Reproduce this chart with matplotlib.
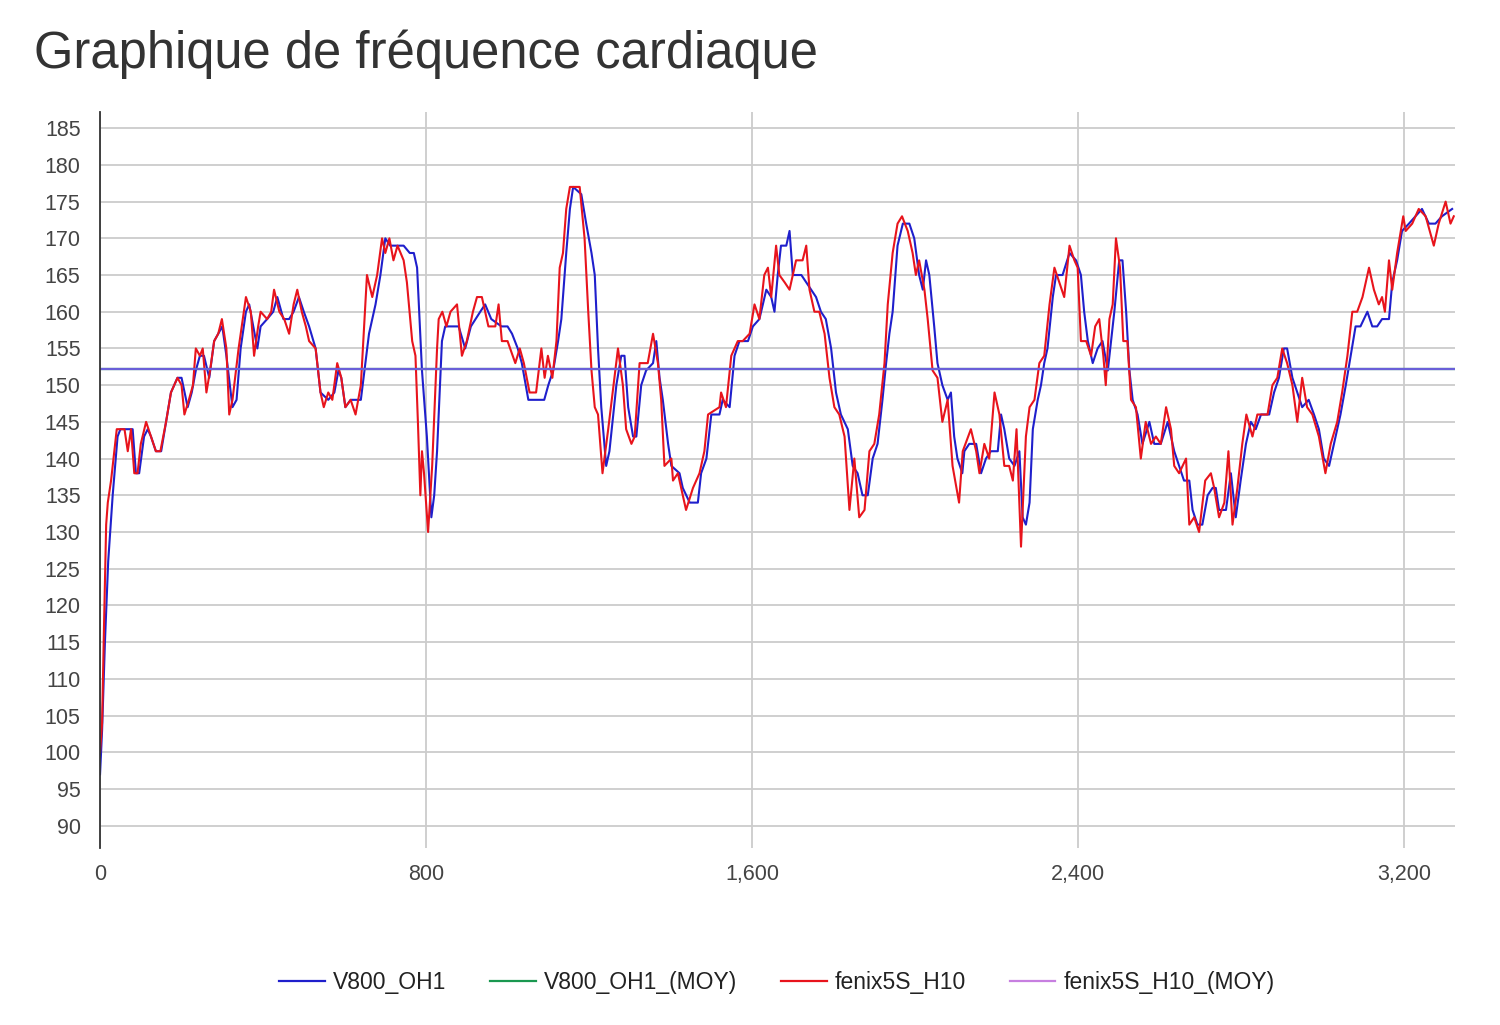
import matplotlib
matplotlib.use("Agg")
import matplotlib.pyplot as plt

plt.rcParams['font.family'] = ['Liberation Sans', 'DejaVu Sans']

title = "Graphique de fréquence cardiaque"
series_names = ["V800_OH1", "V800_OH1_(MOY)", "fenix5S_H10", "fenix5S_H10_(MOY)"]

# V800_OH1 (seconds, bpm)
v800_t = [0, 5, 12, 20, 31, 43, 50, 80, 88, 96, 108, 117, 125, 137, 150, 162, 174, 190, 200, 215,
          225, 235, 245, 255, 268, 280, 290, 300, 310, 325, 335, 345, 358, 366, 376, 386, 394, 410, 425, 435,
          450, 464, 475, 488, 500, 513, 529, 541, 560, 575, 585, 592, 602, 615, 640, 651, 660, 676, 688, 700,
          712, 745, 760, 770, 778, 790, 802, 813, 820, 827, 839, 847, 870, 880, 896, 910, 933, 945, 960, 985,
          1000, 1011, 1025, 1035, 1051, 1076, 1090, 1100, 1112, 1124, 1132, 1144, 1153, 1161, 1181, 1193, 1206, 1214, 1222, 1230,
          1242, 1250, 1267, 1279, 1287, 1296, 1308, 1316, 1328, 1340, 1357, 1365, 1373, 1381, 1394, 1402, 1422, 1430, 1447, 1467,
          1475, 1488, 1500, 1520, 1528, 1545, 1557, 1569, 1590, 1602, 1618, 1635, 1647, 1655, 1663, 1671, 1684, 1692, 1700, 1721,
          1733, 1745, 1757, 1769, 1781, 1794, 1806, 1818, 1835, 1847, 1859, 1871, 1884, 1896, 1908, 1920, 1929, 1937, 1945, 1957,
          1970, 1986, 1998, 2010, 2019, 2027, 2035, 2047, 2055, 2067, 2080, 2088, 2096, 2104, 2116, 2121, 2133, 2150, 2162, 2174,
          2186, 2203, 2211, 2219, 2231, 2244, 2256, 2264, 2272, 2281, 2289, 2301, 2309, 2317, 2325, 2338, 2346, 2362, 2379, 2395,
          2407, 2415, 2424, 2436, 2448, 2460, 2473, 2481, 2489, 2501, 2509, 2518, 2526, 2534, 2546, 2558, 2575, 2587, 2603, 2620,
          2636, 2648, 2660, 2673, 2681, 2693, 2705, 2718, 2730, 2738, 2746, 2763, 2775, 2787, 2799, 2812, 2824, 2836, 2849, 2869,
          2881, 2893, 2905, 2913, 2926, 2938, 2950, 2966, 2979, 2991, 3003, 3016, 3028, 3044, 3057, 3069, 3081, 3093, 3110, 3122,
          3134, 3146, 3163, 3171, 3183, 3195, 3212, 3228, 3244, 3261, 3277, 3293, 3318]
v800_hr = [97, 103, 115, 126, 135, 143, 144, 144, 138, 138, 143, 144, 143, 141, 141, 145, 149, 151, 151, 147,
           149, 152, 154, 154, 151, 156, 157, 158, 154, 147, 148, 155, 160, 161, 158, 155, 158, 159, 160, 162,
           159, 159, 160, 162, 160, 158, 155, 149, 148, 149, 152, 151, 147, 148, 148, 153, 157, 161, 165, 170,
           169, 169, 168, 168, 166, 152, 143, 132, 135, 141, 156, 158, 158, 158, 155, 158, 160, 161, 159, 158,
           158, 157, 155, 153, 148, 148, 148, 150, 152, 156, 159, 168, 174, 177, 176, 172, 168, 165, 155, 147,
           139, 141, 150, 154, 154, 147, 143, 143, 150, 152, 153, 156, 151, 148, 142, 139, 138, 136, 134, 134,
           138, 140, 146, 146, 148, 147, 154, 156, 156, 158, 159, 163, 162, 160, 165, 169, 169, 171, 165, 165,
           164, 163, 162, 160, 159, 155, 149, 146, 144, 139, 138, 135, 135, 140, 142, 148, 153, 157, 160, 169,
           172, 172, 170, 165, 163, 167, 165, 158, 153, 150, 148, 149, 143, 140, 138, 141, 142, 142, 138, 140,
           141, 141, 146, 144, 140, 139, 141, 132, 131, 134, 144, 148, 150, 153, 155, 162, 165, 165, 168, 167,
           165, 160, 156, 153, 155, 156, 152, 156, 160, 167, 167, 160, 152, 148, 146, 142, 145, 142, 142, 145,
           141, 139, 137, 137, 133, 131, 131, 135, 136, 136, 133, 133, 138, 132, 137, 142, 145, 144, 146, 146,
           149, 151, 155, 155, 151, 149, 147, 148, 146, 144, 140, 139, 142, 146, 150, 154, 158, 158, 160, 158,
           158, 159, 159, 164, 167, 171, 172, 173, 174, 172, 172, 173, 174]

# fenix5S_H10
fenix_t = [0, 5, 10, 15, 19, 27, 41, 60, 68, 76, 84, 92, 100, 113, 125, 137, 148, 162, 174, 190,
           200, 207, 218, 228, 235, 245, 252, 261, 270, 280, 290, 299, 310, 317, 325, 340, 358, 370, 378, 388,
           394, 410, 420, 427, 440, 452, 464, 475, 484, 495, 505, 513, 529, 541, 549, 560, 570, 582, 592, 602,
           615, 627, 640, 651, 655, 668, 680, 692, 700, 710, 720, 730, 745, 753, 766, 774, 780, 786, 790, 795,
           805, 815, 827, 831, 840, 850, 860, 876, 888, 900, 915, 925, 937, 953, 970, 978, 986, 1000, 1019, 1030,
           1040, 1054, 1070, 1083, 1091, 1099, 1110, 1120, 1128, 1136, 1144, 1153, 1177, 1189, 1198, 1206, 1214, 1222, 1233, 1247,
           1260, 1271, 1283, 1291, 1304, 1312, 1324, 1344, 1357, 1369, 1377, 1385, 1402, 1406, 1418, 1430, 1438, 1455, 1471, 1483,
           1492, 1520, 1524, 1536, 1549, 1565, 1577, 1594, 1606, 1618, 1630, 1639, 1647, 1659, 1667, 1680, 1692, 1708, 1724, 1733,
           1741, 1753, 1765, 1778, 1790, 1802, 1814, 1827, 1839, 1851, 1863, 1876, 1888, 1900, 1912, 1925, 1933, 1945, 1957, 1968,
           1982, 1994, 2002, 2010, 2023, 2031, 2043, 2055, 2067, 2080, 2092, 2108, 2117, 2137, 2150, 2158, 2170, 2182, 2195, 2207,
           2219, 2231, 2240, 2249, 2260, 2272, 2281, 2293, 2305, 2317, 2330, 2342, 2354, 2366, 2379, 2391, 2399, 2407, 2420, 2432,
           2442, 2452, 2462, 2468, 2477, 2485, 2493, 2503, 2511, 2521, 2530, 2542, 2554, 2566, 2579, 2591, 2603, 2616, 2628, 2636,
           2648, 2665, 2673, 2685, 2697, 2712, 2726, 2734, 2746, 2759, 2769, 2779, 2791, 2803, 2813, 2828, 2840, 2865, 2877, 2889,
           2901, 2913, 2926, 2938, 2950, 2962, 2975, 2991, 3007, 3020, 3036, 3048, 3061, 3073, 3085, 3098, 3114, 3126, 3138, 3146,
           3153, 3163, 3171, 3183, 3198, 3204, 3220, 3236, 3253, 3273, 3285, 3302, 3314, 3322]
fenix_hr = [100, 104, 118, 131, 134, 137, 144, 144, 141, 144, 138, 138, 142, 145, 143, 141, 141, 145, 149, 151,
            150, 146, 148, 150, 155, 154, 155, 149, 152, 156, 157, 159, 155, 146, 148, 155, 162, 160, 154, 158,
            160, 159, 160, 163, 160, 159, 157, 161, 163, 160, 158, 156, 155, 149, 147, 149, 148, 153, 151, 147,
            148, 146, 150, 161, 165, 162, 165, 170, 168, 170, 167, 169, 167, 164, 156, 154, 145, 135, 141, 138,
            130, 139, 155, 159, 160, 158, 160, 161, 154, 156, 160, 162, 162, 158, 158, 161, 156, 156, 153, 155,
            153, 149, 149, 155, 151, 154, 151, 156, 166, 168, 174, 177, 177, 170, 160, 152, 147, 146, 138, 144,
            150, 155, 150, 144, 142, 143, 153, 153, 157, 153, 148, 139, 140, 137, 138, 135, 133, 136, 138, 141,
            146, 147, 149, 147, 154, 156, 156, 157, 161, 159, 165, 166, 162, 169, 165, 164, 163, 167, 167, 169,
            163, 160, 160, 157, 151, 147, 146, 143, 133, 140, 132, 133, 141, 142, 146, 153, 161, 168, 172, 173,
            171, 168, 165, 167, 163, 159, 152, 151, 145, 148, 139, 134, 141, 144, 141, 138, 142, 140, 149, 146,
            139, 139, 137, 144, 128, 143, 147, 148, 153, 154, 161, 166, 164, 162, 169, 167, 166, 156, 156, 154,
            158, 159, 154, 150, 159, 161, 170, 166, 156, 156, 148, 147, 140, 145, 142, 143, 142, 147, 144, 139,
            138, 140, 131, 132, 130, 137, 138, 136, 132, 134, 141, 131, 136, 142, 146, 143, 146, 146, 150, 151,
            155, 153, 150, 145, 151, 147, 146, 143, 138, 142, 145, 149, 154, 160, 160, 162, 166, 163, 161, 162,
            160, 167, 163, 168, 173, 171, 172, 174, 173, 169, 172, 175, 172, 173]

v800_mean = 152.2
fenix_mean = 152.2

x_ticks = [0, 800, 1600, 2400, 3200]
x_labels = ["0", "800", "1,600", "2,400", "3,200"]
y_ticks = list(range(90, 186, 5))

fig = plt.figure(figsize=(15, 10.25), dpi=100)
ax = fig.add_axes([0.0667, 0.173, 0.9033, 0.7177])

ax.plot(v800_t, v800_hr, color="#1f1fcc", lw=1.5, label=series_names[0], zorder=3)
ax.axhline(v800_mean, color="#1a9850", lw=1.6, label=series_names[1], zorder=4)
ax.plot(fenix_t, fenix_hr, color="#e8141c", lw=1.5, label=series_names[2], zorder=5)
ax.axhline(fenix_mean, color="#6a5fd8", lw=1.6, label=series_names[3], zorder=6)

ax.set_xlim(0, 3325)
ax.set_ylim(87, 187.2)
ax.set_xticks(x_ticks)
ax.set_xticklabels(x_labels)
ax.set_yticks(y_ticks)
ax.grid(True, color="#cccccc", lw=1.3)
ax.set_axisbelow(True)
for s in ["top", "right", "bottom"]:
    ax.spines[s].set_visible(False)
ax.spines["left"].set_color("#333333")
ax.spines["left"].set_linewidth(1.3)
ax.spines["left"].set_zorder(7)
ax.tick_params(length=0, labelsize=15.5, colors="#444444")
ax.tick_params(axis="x", pad=12)
ax.tick_params(axis="y", pad=14)

fig.text(0.023, 0.947, title, fontsize=36.5, color="#333333", va="center", ha="left")

handles, labels = ax.get_legend_handles_labels()
leg = fig.legend(handles, labels, loc="center", bbox_to_anchor=(0.518, 0.041), ncol=4,
                 frameon=False, fontsize=16.5, handlelength=2.0, columnspacing=1.9, handletextpad=0.35)
for line in leg.get_lines():
    line.set_linewidth(1.6)
for t in leg.get_texts():
    t.set_color("#222222")
leg.get_lines()[3].set_color("#c77fe0")

fig.savefig("out.png", dpi=100)
